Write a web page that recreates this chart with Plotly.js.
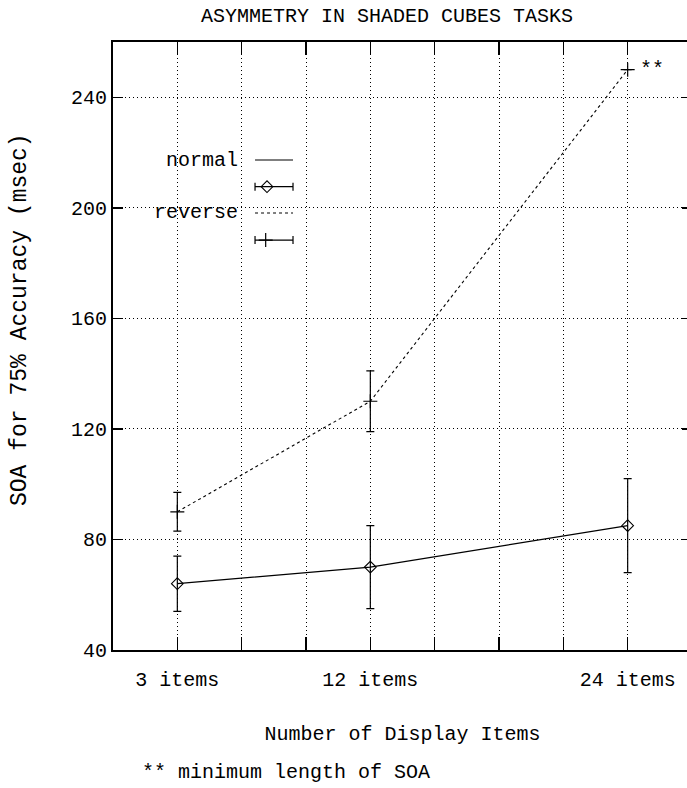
<!DOCTYPE html>
<html>
<head>
<meta charset="utf-8">
<script src="https://cdn.plot.ly/plotly-3.0.1.min.js"></script>
<style>
html,body{margin:0;padding:0;overflow:hidden;background:#fff;}
#chart{width:692px;height:788px;}
</style>
</head>
<body>
<div id="chart"></div>
<script>
// ---- data ----
var displayItems = [3, 12, 24];
var normalSOA = [64, 70, 85];
var normalErr = [10, 15, 17];
var reverseSOA = [90, 130, 250];
var reverseErr = [7, 11, 0];
var xTickVals = [3, 6, 9, 12, 15, 18, 21, 24];
var xTickText = ["3 items", "", "", "12 items", "", "", "", "24 items"];
var yTickVals = [40, 80, 120, 160, 200, 240];

var FONT = "'Courier New', 'Liberation Mono', monospace";
var BLACK = '#000';

// legend key geometry (paper fractions of the plot area)
var keyX0 = 0.2453, keyX1 = 0.3109;
var keyRows = {normal: 0.8059, normalBar: 0.762, reverse: 0.7188, reverseBar: 0.6743};
var diamondX = 0.266, plusX = 0.2637;

var traces = [
  {
    x: displayItems, y: normalSOA, type: 'scatter', mode: 'lines+markers',
    line: {color: BLACK, width: 1.2},
    marker: {symbol: 'diamond-open', size: 9, color: BLACK, line: {width: 1.1, color: BLACK}},
    error_y: {type: 'data', array: normalErr, visible: true, color: BLACK, thickness: 1.2, width: 4},
    showlegend: false, hoverinfo: 'skip'
  },
  {
    x: displayItems, y: reverseSOA, type: 'scatter', mode: 'lines+markers',
    line: {color: BLACK, width: 1.1, dash: '3px,3px'},
    marker: {symbol: 'cross-thin-open', size: 10, color: BLACK, line: {width: 1.2, color: BLACK}},
    error_y: {type: 'data', array: reverseErr, visible: true, color: BLACK, thickness: 1.2, width: 4},
    showlegend: false, hoverinfo: 'skip'
  },
  // legend keys on overlay axes
  {
    x: [keyX0, keyX1], y: [keyRows.normal, keyRows.normal], xaxis: 'x2', yaxis: 'y2',
    mode: 'lines', line: {color: BLACK, width: 1.2}, showlegend: false, hoverinfo: 'skip'
  },
  {
    x: [diamondX], y: [keyRows.normalBar], xaxis: 'x2', yaxis: 'y2', mode: 'markers',
    marker: {symbol: 'diamond-open', size: 9, color: BLACK, line: {width: 1.1, color: BLACK}},
    error_x: {type: 'data', symmetric: false, array: [keyX1 - diamondX], arrayminus: [diamondX - keyX0],
              color: BLACK, thickness: 1.2, width: 4},
    showlegend: false, hoverinfo: 'skip'
  },
  {
    x: [keyX0, keyX1], y: [keyRows.reverse, keyRows.reverse], xaxis: 'x2', yaxis: 'y2',
    mode: 'lines', line: {color: BLACK, width: 1.1, dash: '3px,3px'}, showlegend: false, hoverinfo: 'skip'
  },
  {
    x: [plusX], y: [keyRows.reverseBar], xaxis: 'x2', yaxis: 'y2', mode: 'markers',
    marker: {symbol: 'cross-thin-open', size: 10, color: BLACK, line: {width: 1.2, color: BLACK}},
    error_x: {type: 'data', symmetric: false, array: [keyX1 - plusX], arrayminus: [plusX - keyX0],
              color: BLACK, thickness: 1.2, width: 4},
    showlegend: false, hoverinfo: 'skip'
  }
];

var layout = {
  width: 692, height: 788,
  margin: {l: 113, r: 0, t: 42, b: 138},
  paper_bgcolor: '#fff', plot_bgcolor: '#fff',
  font: {family: FONT, size: 20, color: BLACK},
  title: {
    text: 'ASYMMETRY IN SHADED CUBES TASKS',
    font: {family: FONT, size: 20, color: BLACK},
    xref: 'container', x: 387 / 692, xanchor: 'center',
    yref: 'container', y: 1 - 15 / 788, yanchor: 'middle'
  },
  xaxis: {
    range: [0, 27], tickmode: 'array', tickvals: xTickVals, ticktext: xTickText,
    ticks: 'inside', ticklen: 13, tickwidth: 1.5, tickcolor: BLACK, ticklabelstandoff: 10,
    showline: true, linewidth: 2, linecolor: BLACK, mirror: 'ticks',
    showgrid: true, gridcolor: BLACK, gridwidth: 1, griddash: '1px,3px',
    zeroline: false, tickfont: {family: FONT, size: 20, color: BLACK},
    title: {text: 'Number of Display Items', font: {family: FONT, size: 20, color: BLACK}, standoff: 35}
  },
  yaxis: {
    range: [40, 260], tickmode: 'array', tickvals: yTickVals,
    ticks: 'inside', ticklen: 10, tickwidth: 1.5, tickcolor: BLACK,
    showline: true, linewidth: 2, linecolor: BLACK, mirror: 'ticks',
    showgrid: true, gridcolor: BLACK, gridwidth: 1, griddash: '1px,3px',
    zeroline: false, tickfont: {family: FONT, size: 20, color: BLACK}
  },
  xaxis2: {overlaying: 'x', anchor: 'y2', range: [0, 1], visible: false, fixedrange: true},
  yaxis2: {overlaying: 'y', anchor: 'x2', range: [0, 1], visible: false, fixedrange: true},
  annotations: [
    {text: 'SOA for 75% Accuracy (msec)', xref: 'paper', yref: 'paper', x: -0.1606, y: 0.5428,
     xanchor: 'center', yanchor: 'middle', textangle: -90, showarrow: false,
     font: {family: FONT, size: 23, color: BLACK}},
    {text: 'normal', xref: 'paper', yref: 'paper', x: 0.2193, y: keyRows.normal,
     xanchor: 'right', yanchor: 'middle', showarrow: false, font: {family: FONT, size: 20, color: BLACK}},
    {text: 'reverse', xref: 'paper', yref: 'paper', x: 0.2193, y: keyRows.reverse,
     xanchor: 'right', yanchor: 'middle', showarrow: false, font: {family: FONT, size: 20, color: BLACK}},
    {text: '**', xref: 'x', yref: 'y', x: displayItems[2], y: reverseSOA[2],
     xanchor: 'left', yanchor: 'middle', xshift: 10, yshift: 0, showarrow: false,
     font: {family: FONT, size: 20, color: BLACK}},
    {text: '** minimum length of SOA', xref: 'paper', yref: 'paper', x: 0.0466, y: -0.2023,
     xanchor: 'left', yanchor: 'middle', showarrow: false, font: {family: FONT, size: 20, color: BLACK}}
  ]
};

Plotly.newPlot('chart', traces, layout, {staticPlot: true, displayModeBar: false});
</script>
</body>
</html>
